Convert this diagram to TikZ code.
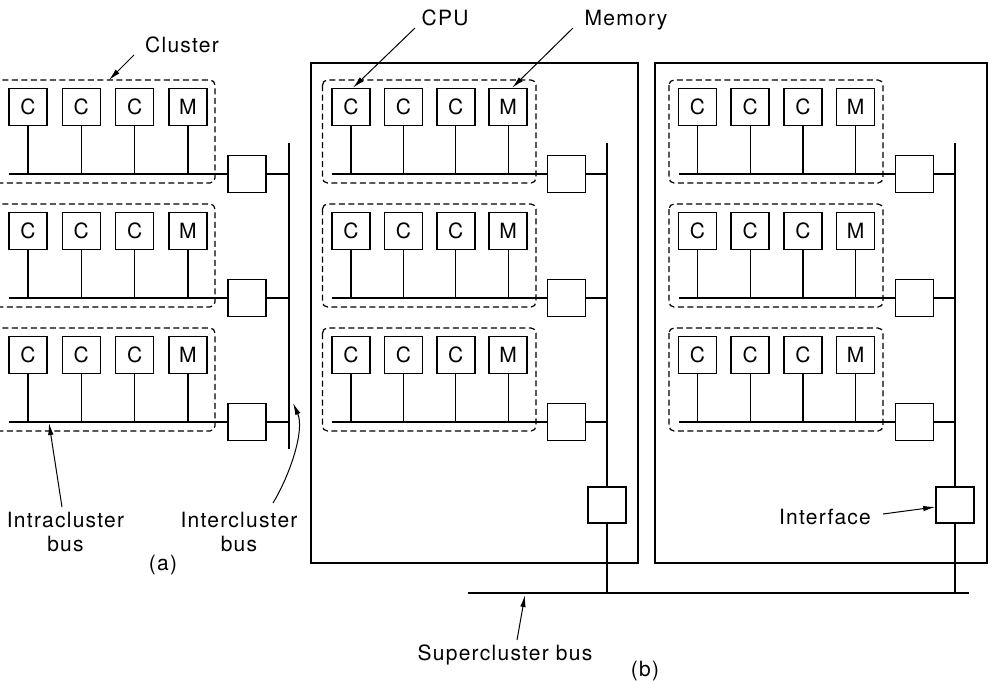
\documentclass[tikz,border=0pt]{standalone}
\usepackage{fontspec}
\setmainfont[LetterSpace=6]{TeX Gyre Heros}
\usetikzlibrary{arrows.meta}
\newcommand\figfont{\fontsize{21}{24}\selectfont}
\begin{document}
\begin{tikzpicture}[x=1pt,y=-1pt,
  unit/.style={draw,line width=1.5pt,minimum width=38pt,minimum height=37pt,inner sep=0pt,font=\figfont},
  iface/.style={draw,line width=1.5pt,minimum width=38pt,minimum height=37pt,inner sep=0pt},
  clusterbox/.style={draw,dash pattern=on 6pt off 3.5pt,line width=1.2pt,rounded corners=5pt},
  busline/.style={line width=1.6pt},
  stem/.style={line width=1.3pt},
  panel/.style={draw,line width=1.5pt},
  arr/.style={line width=1pt,-{Latex[length=12pt,width=5.5pt]}},
  lab/.style={inner sep=0pt,font=\figfont,align=center}]
\useasboundingbox (0,0) rectangle (992,680);
\fill[white] (0,0) rectangle (992,680);

% panels of (b)
\draw[panel] (311,63) rectangle (638,563);
\draw[panel] (655,63) rectangle (987,563);

% clusters
\foreach \p/\xc/\sp/\ix/\bx/\dl/\dr in {a/28/53.3/247/289/-40/215, l/351/52.4/566.5/607/322.5/536, r/697.5/52.7/914.5/955/669/883}{
 \foreach \r/\yb in {1/174,2/298,3/422}{
  \draw[clusterbox] (\dl,\yb-94) rectangle (\dr,\yb+9);
  \foreach \i/\t in {1/C,2/C,3/C,4/M}
    \node[unit] (\p\r-\i) at ({\xc+(\i-1)*\sp},\yb-67) {\t};
  \coordinate (\p\r-bl) at (\xc-19,\yb);
  \node[iface] (\p\r-if) at (\ix,\yb) {};
  \coordinate (\p\r-bj) at (\bx,\yb);
  \draw[busline] (\p\r-bl) -- (\p\r-if.west);
  \draw[busline] (\p\r-if.east) -- (\p\r-bj);
  \foreach \i in {1,...,4}
    \draw[stem] (\p\r-\i.south) -- (\p\r-\i.south |- \p\r-bl);
 }
}

% vertical buses
\coordinate (atop) at (289,143);
\coordinate (abot) at (289,449);
\draw[busline] (atop) -- (abot);

\node[iface,minimum height=36pt] (lif) at (607,505) {};
\node[iface,minimum height=36pt] (rif) at (955,505) {};
\coordinate (ltop) at (607,143);
\coordinate (rtop) at (955,143);
\coordinate (sbl) at (468,593);
\coordinate (sbr) at (969,593);
\coordinate (lsb) at (607,593);
\coordinate (rsb) at (955,593);
\draw[busline] (ltop) -- (lif.north);
\draw[busline] (lif.south) -- (lsb);
\draw[busline] (rtop) -- (rif.north);
\draw[busline] (rif.south) -- (rsb);
\draw[busline] (sbl) -- (sbr);

% labels
\node[lab,anchor=base] (tcluster) at (182,52) {Cluster};
\node[lab,anchor=base] (tcpu) at (445,25) {CPU};
\node[lab,anchor=base] (tmem) at (626,25) {Memory};
\node[lab,anchor=north] (tintra) at (65.5,512) {Intracluster\\bus};
\node[lab,anchor=north] (tinter) at (239,512) {Intercluster\\bus};
\node[lab] (ta) at (163,565) {(a)};
\node[lab,anchor=base] (tsuper) at (505,660) {Supercluster bus};
\node[lab] (tb) at (645,671) {(b)};
\node[lab,anchor=base] (tiface) at (825,524) {Interface};

% arrows
\coordinate (c-from) at (134,55);
\coordinate (c-to) at (109,80);
\draw[arr] (c-from) -- (c-to);
\coordinate (cpu-from) at (415,28);
\draw[arr] (cpu-from) -- ([xshift=2pt]l1-1.north);
\coordinate (mem-from) at (573,28);
\draw[arr] (mem-from) -- ([xshift=4pt]l1-4.north);
\coordinate (intra-from) at (62,507);
\coordinate (intra-to) at (49,423);
\draw[arr] (intra-from) -- (intra-to);
\coordinate (inter-from) at (273,503);
\coordinate (inter-to) at (293,403);
\draw[arr] (inter-from) .. controls (290,475) and (305,430) .. (inter-to);
\coordinate (super-from) at (517,640);
\coordinate (super-to) at (525,595);
\draw[arr] (super-from) -- (super-to);
\coordinate (if-from) at (883,514);
\draw[arr] (if-from) -- ([yshift=-2pt]rif.west);
\end{tikzpicture}
\end{document}
